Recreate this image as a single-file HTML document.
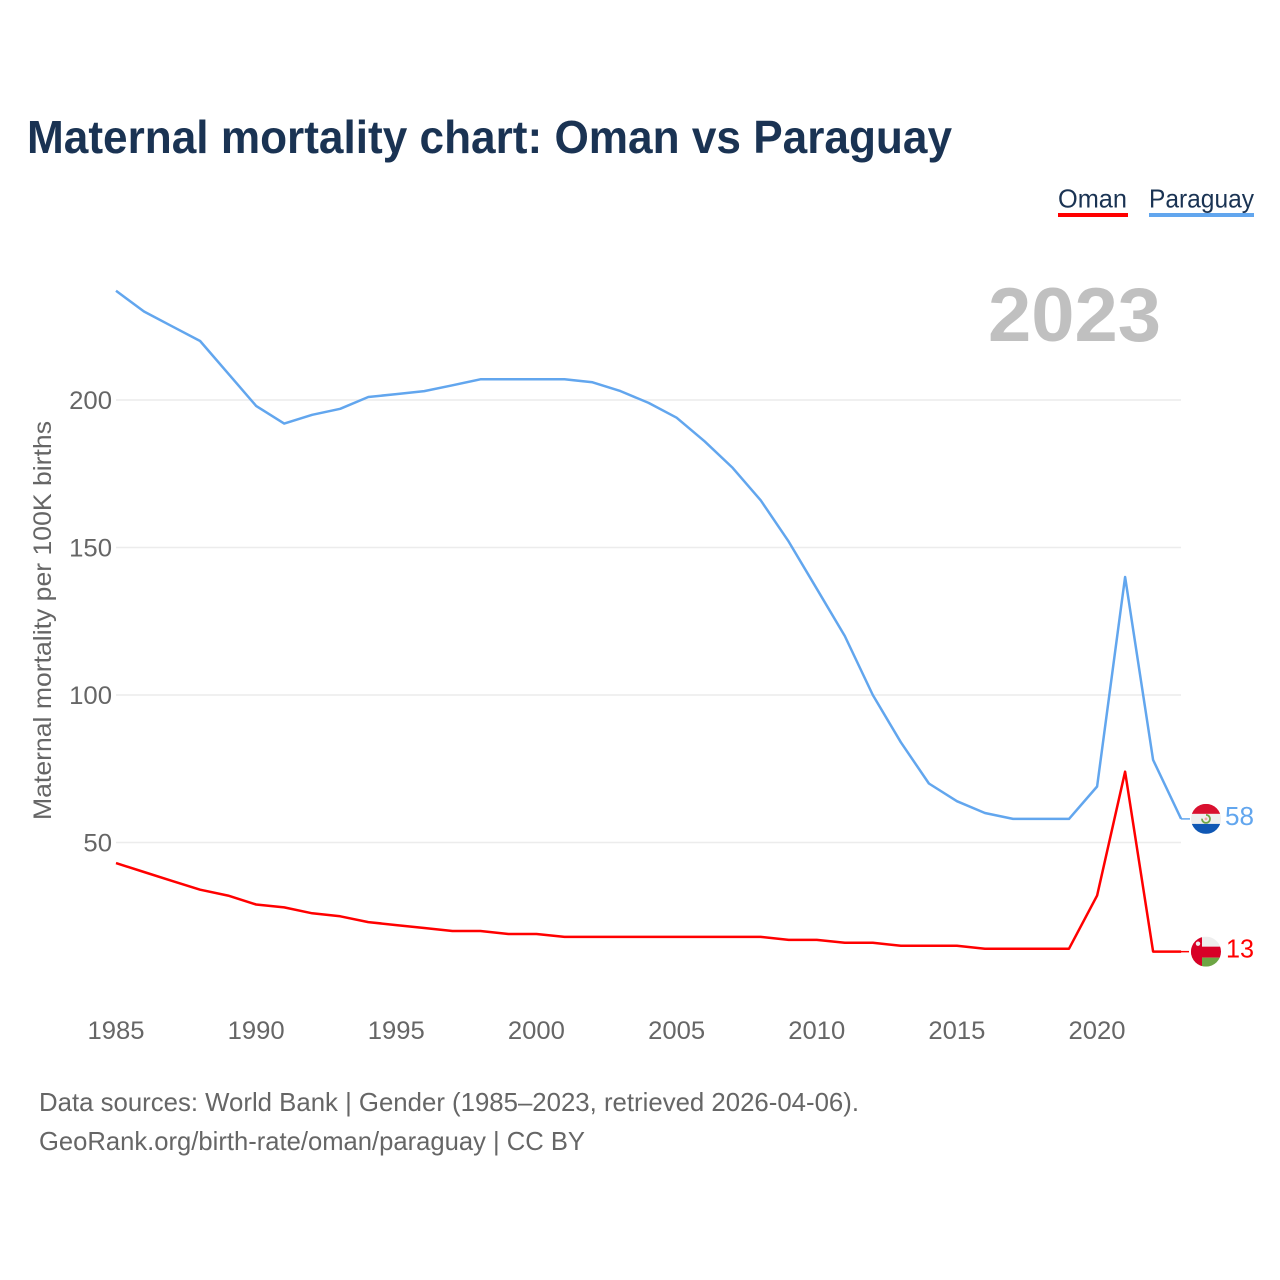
<!DOCTYPE html>
<html lang="en">
<head>
<meta charset="utf-8">
<title>Maternal mortality chart: Oman vs Paraguay</title>
<style>
html,body{margin:0;padding:0;background:#fff}
svg{display:block}
text{font-family:"Liberation Sans",sans-serif}
</style>
</head>
<body>
<svg id="chart" xmlns="http://www.w3.org/2000/svg" width="1280" height="1280" viewBox="0 0 1280 1280">
<rect width="1280" height="1280" fill="#ffffff"/>
<text x="27" y="153" font-size="46" font-weight="700" fill="#1a3353" textLength="925" lengthAdjust="spacingAndGlyphs">Maternal mortality chart: Oman vs Paraguay</text>

<g>
<text x="1058" y="207.5" font-size="26" fill="#1a3353" textLength="69" lengthAdjust="spacingAndGlyphs">Oman</text>
<rect x="1058" y="213" width="70" height="4" fill="#ff0000"/>
</g>
<g>
<text x="1149" y="207.5" font-size="26" fill="#1a3353" textLength="105" lengthAdjust="spacingAndGlyphs">Paraguay</text>
<rect x="1149" y="213" width="105" height="4" fill="#62a6ee"/>
</g>

<text x="988" y="341" font-size="76" font-weight="700" fill="#c0c0c0" textLength="173" lengthAdjust="spacingAndGlyphs">2023</text>

<g id="grid"></g>
<g id="yticks"></g>
<g id="xticks"></g>
<text transform="translate(51,820) rotate(-90)" font-size="25" fill="#666666" textLength="399" lengthAdjust="spacingAndGlyphs">Maternal mortality per 100K births</text>

<g id="series"></g>

<clipPath id="clip-paraguay"><circle id="clip-p" r="15"/></clipPath>
<clipPath id="clip-oman"><circle id="clip-o" r="15"/></clipPath>
<g id="end-paraguay"></g>
<g id="end-oman"></g>

<text x="39" y="1111" font-size="26" fill="#666666" textLength="820" lengthAdjust="spacingAndGlyphs">Data sources: World Bank | Gender (1985–2023, retrieved 2026-04-06).</text>
<text x="39" y="1150" font-size="26" fill="#666666" textLength="546" lengthAdjust="spacingAndGlyphs">GeoRank.org/birth-rate/oman/paraguay | CC BY</text>
</svg>
<script>
const years = [1985,1986,1987,1988,1989,1990,1991,1992,1993,1994,1995,1996,1997,1998,1999,2000,2001,2002,2003,2004,2005,2006,2007,2008,2009,2010,2011,2012,2013,2014,2015,2016,2017,2018,2019,2020,2021,2022,2023];
const paraguayValues = [237,230,225,220,209,198,192,195,197,201,202,203,205,207,207,207,207,206,203,199,194,186,177,166,152,136,120,100,84,70,64,60,58,58,58,69,140,78,58];
const omanValues = [43,40,37,34,32,29,28,26,25,23,22,21,20,20,19,19,18,18,18,18,18,18,18,18,17,17,16,16,15,15,15,14,14,14,14,32,74,13,13];
const yTickValues = [50,100,150,200];
const xTickValues = [1985,1990,1995,2000,2005,2010,2015,2020];

const NS = 'http://www.w3.org/2000/svg';
const xScale = function (year) { return 116 + (year - 1985) * 28.03; };
const yScale = function (value) { return 990 - value * 2.95; };
const make = function (tag, attrs, parent) {
  const el = document.createElementNS(NS, tag);
  Object.keys(attrs).forEach(function (k) { el.setAttribute(k, attrs[k]); });
  parent.appendChild(el);
  return el;
};

const grid = document.getElementById('grid');
const yticks = document.getElementById('yticks');
yTickValues.forEach(function (v) {
  const line = make('line', {x1: 116, x2: 1181, y1: yScale(v), y2: yScale(v), stroke: '#ececec', 'stroke-width': 1.5}, grid);
  
  
  const label = make('text', {x: 112, y: yScale(v) + 9, 'text-anchor': 'end', 'font-size': 25, fill: '#666666', textLength: String(v).length * 14.3, lengthAdjust: 'spacingAndGlyphs'}, yticks);
  
  
  label.textContent = v;
});

const xticks = document.getElementById('xticks');
xTickValues.forEach(function (yr) {
  const label = make('text', {x: xScale(yr), y: 1039, 'text-anchor': 'middle', 'font-size': 25, fill: '#666666', textLength: 57, lengthAdjust: 'spacingAndGlyphs'}, xticks);
  
  
  label.textContent = yr;
});

const series = document.getElementById('series');
const linePoints = function (values) {
  return values.map(function (v, i) { return xScale(years[i]).toFixed(1) + ',' + yScale(v).toFixed(1); }).join(' ');
};
const paraguayLine = make('polyline', {points: linePoints(paraguayValues), fill: 'none', stroke: '#62a6ee', 'stroke-width': 2.5, 'stroke-linejoin': 'round'}, series);


const omanLine = make('polyline', {points: linePoints(omanValues), fill: 'none', stroke: '#ff0000', 'stroke-width': 2.5, 'stroke-linejoin': 'round'}, series);



/* End markers follow the final value of each series */
const flagX = 1206;
const lastP = paraguayValues[paraguayValues.length - 1];
const lastO = omanValues[omanValues.length - 1];
const py = yScale(lastP);
const oy = yScale(lastO);
document.getElementById('clip-p').setAttribute('cx', flagX);
document.getElementById('clip-p').setAttribute('cy', py);
document.getElementById('clip-o').setAttribute('cx', flagX);
document.getElementById('clip-o').setAttribute('cy', oy);

const endP = document.getElementById('end-paraguay');
const leaderP = make('line', {x1: 1181, x2: 1190, y1: py, y2: py, stroke: '#62a6ee', 'stroke-width': 1.5}, endP);


const flagP = make('g', {'clip-path': 'url(#clip-paraguay)'}, endP);


make('rect', {x: flagX - 15, y: py - 15, width: 30, height: 10, fill: '#d9102f'}, flagP);
make('rect', {x: flagX - 15, y: py - 5, width: 30, height: 10, fill: '#eeeeee'}, flagP);
make('rect', {x: flagX - 15, y: py + 5, width: 30, height: 10, fill: '#0f57b4'}, flagP);
make('circle', {cx: flagX, cy: py, r: 4, fill: 'none', stroke: '#6da544', 'stroke-width': 1.8, 'stroke-dasharray': '19 6', transform: 'rotate(-90 ' + flagX + ' ' + py + ')'}, flagP);
make('circle', {cx: flagX, cy: py, r: 1.4, fill: '#f4a6a6'}, flagP);
const labelP = make('text', {x: 1225, y: py + 6, 'font-size': 26, fill: '#62a6ee', textLength: 29, lengthAdjust: 'spacingAndGlyphs'}, endP);


labelP.textContent = lastP;

const endO = document.getElementById('end-oman');
const leaderO = make('line', {x1: 1181, x2: 1189, y1: oy, y2: oy, stroke: '#ff0000', 'stroke-width': 1.5}, endO);


const flagO = make('g', {'clip-path': 'url(#clip-oman)'}, endO);


make('rect', {x: flagX - 15, y: oy - 15, width: 30, height: 10, fill: '#eeeeee'}, flagO);
make('rect', {x: flagX - 15, y: oy - 5, width: 30, height: 11, fill: '#d80027'}, flagO);
make('rect', {x: flagX - 15, y: oy + 6, width: 30, height: 9, fill: '#6da544'}, flagO);
make('rect', {x: flagX - 15, y: oy - 15, width: 11, height: 30, fill: '#d80027'}, flagO);
make('circle', {cx: flagX - 8, cy: oy - 8, r: 2.2, fill: '#eeeeee'}, flagO);
const labelO = make('text', {x: 1226, y: oy + 6, 'font-size': 26, fill: '#ff0000', textLength: 28, lengthAdjust: 'spacingAndGlyphs'}, endO);


labelO.textContent = lastO;
</script>
</body>
</html>
